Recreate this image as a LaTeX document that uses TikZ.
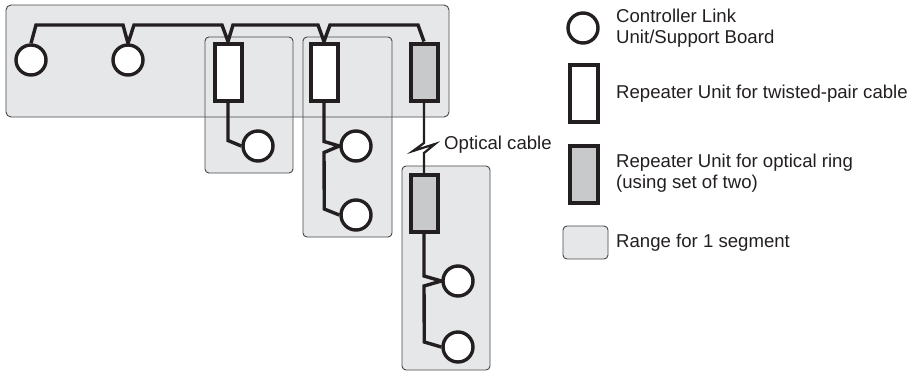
\documentclass[tikz,border=0pt]{standalone}
\usepackage{fontspec}
\setmainfont{Liberation Sans}
\usetikzlibrary{calc}
\definecolor{segfill}{RGB}{230,231,233}
\definecolor{repgray}{RGB}{200,201,203}
\definecolor{ink}{RGB}{35,31,32}
\definecolor{boxline}{RGB}{70,70,72}
\pgfdeclarelayer{bg}
\pgfdeclarelayer{wires}
\pgfsetlayers{bg,wires,main}
\tikzset{
  segbox/.style={fill=segfill,draw=boxline,line width=0.9pt,rounded corners=4pt},
  unitcirc/.style={circle,draw=ink,fill=white,line width=3.4pt,minimum size=30pt,inner sep=0pt},
  reptp/.style={rectangle,draw=ink,fill=white,line width=4pt,minimum width=27pt,minimum height=57pt,inner sep=0pt},
  repop/.style={reptp,fill=repgray},
  wire/.style={draw=ink,line width=3.4pt,line join=miter},
  optwire/.style={draw=ink,line width=2.2pt,line join=miter},
  lbl/.style={anchor=west,inner sep=0pt,align=left,text=ink,font=\fontsize{18.6}{21}\selectfont},
}
\begin{document}
\begin{tikzpicture}[x=1pt,y=-1pt]
\useasboundingbox (0,0) rectangle (910,372);

% nodes
\node[unitcirc] (c1) at (31,60) {};
\node[unitcirc] (c2) at (128,60) {};
\node[reptp] (r1) at (228,72) {};
\node[reptp] (r2) at (324,72) {};
\node[repop] (r3) at (424,72) {};
\node[unitcirc] (c3) at (258,146) {};
\node[unitcirc] (c4) at (356,146) {};
\node[unitcirc] (c5) at (356,215) {};
\node[repop] (r4) at (424,203.5) {};
\node[unitcirc] (c6) at (458,281) {};
\node[unitcirc] (c7) at (458,347) {};

\begin{pgfonlayer}{bg}
% segment ranges
\fill[segfill,rounded corners=5pt] (6,5) rectangle (449,117);
\path[segbox] (205,37) rectangle (293,173);
\path[segbox] (303,37) rectangle (392,237);
\path[segbox] (402,166) rectangle (490,370);
\draw[boxline,line width=0.9pt,rounded corners=5pt] (6,5) rectangle (449,117);
\end{pgfonlayer}

\begin{pgfonlayer}{wires}
\path[wire] (c1.north) -- (36,25) -- (123,25) -- (c2.north) -- (134,25) -- (222,25) -- (r1.north) -- (233,25)
  -- (318,25) -- (r2.north) -- (330,25) -- (418,25) -- (r3.north);
\path[wire] (r1.south) -- ($(r1.south)+(0,38)$) -- (c3.west);
\path[wire] (r2.south) -- ($(r2.south)+(0,39)$) -- (c4.west) -- ($(r2.south)+(0,50)$) -- ($(c5.west)+(-15,-6)$) -- (c5.west);
\path[wire] (r4.south) -- ($(r4.south)+(0,42)$) -- (c6.west) -- ($(r4.south)+(0,52)$) -- ($(c7.west)+(-17,-5)$) -- (c7.west);
\path[optwire] (r3.south) -- (424,143) -- (413,151) -- (435,144) -- (424,153) -- (r4.north);
\end{pgfonlayer}

\node[lbl] (opt) at (444,145) {Optical cable};

% legend
\node[unitcirc] (lc) at (583,28) {};
\node[lbl] (lct) at (616,28.5) {Controller Link\\Unit/Support Board};
\node[reptp,minimum width=28pt] (lr) at (583.5,93) {};
\node[lbl] (lrt) at (616,94) {Repeater Unit for twisted-pair cable};
\node[repop,minimum width=28pt] (lo) at (583.5,174.5) {};
\node[lbl] (lot) at (616,173.5) {Repeater Unit for optical ring\\(using set of two)};
\node[segbox,minimum width=45pt,minimum height=33pt,rectangle] (ls) at (585.5,242.5) {};
\node[lbl] (lst) at (616,242.5) {Range for 1 segment};
\end{tikzpicture}
\end{document}
